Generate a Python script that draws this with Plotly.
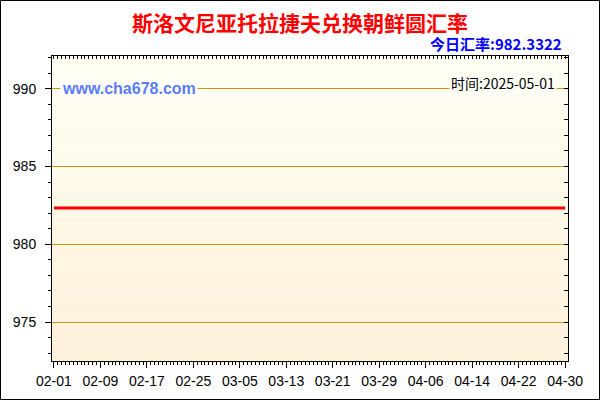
import plotly.graph_objs as go

# data
dates = ['2025-02-01', '2025-04-30']
rate = [982.3322, 982.3322]
tick_dates = ['2025-02-01', '2025-02-09', '2025-02-17', '2025-02-25', '2025-03-05', '2025-03-13',
              '2025-03-21', '2025-03-29', '2025-04-06', '2025-04-14', '2025-04-22', '2025-04-30']
tick_labels = [d[5:] for d in tick_dates]
y_ticks = [975, 980, 985, 990]

title = '斯洛文尼亚托拉捷夫兑换朝鲜圆汇率'
today = '今日汇率:982.3322'
stamp = '时间:2025-05-01'
site = 'www.cha678.com'

xr = ['2025-01-31 16:00', '2025-04-30 12:00']
yr = [972.5, 992.1]

W, H = 600, 400
ml, mr, mt, mb = 52, 32, 56, 39
pw, ph = W - ml - mr, H - mt - mb

layout = go.Layout(
    width=W, height=H, paper_bgcolor='white', plot_bgcolor='rgba(0,0,0,0)',
    margin=dict(l=ml, r=mr, t=mt, b=mb), showlegend=False,
    font=dict(family='Liberation Sans, Arial', size=14, color='black'),
    xaxis=dict(type='date', range=xr, tickvals=tick_dates, ticktext=tick_labels, showgrid=False,
               showline=True, linecolor='black', linewidth=1, ticks='outside', ticklen=6,
               tickcolor='black', zeroline=False, ticklabelstandoff=1,
               minor=dict(ticks='outside', ticklen=3, tickcolor='black', dtick=57600000,
                          tick0='2025-02-01', showgrid=False)),
    yaxis=dict(range=yr, tickvals=y_ticks, showgrid=True, gridcolor='#C9960C', gridwidth=1,
               showline=True, linecolor='black', linewidth=1, ticks='outside', ticklen=6,
               tickcolor='black', zeroline=False, ticklabelstandoff=6,
               minor=dict(ticks='outside', ticklen=3, tickcolor='black', dtick=1, showgrid=False)),
    xaxis2=dict(type='date', range=xr, overlaying='x', side='top', anchor='y', showticklabels=False,
                showgrid=False, showline=True, linecolor='black', ticks='inside', ticklen=3,
                tickcolor='black', dtick=57600000, tick0='2025-02-01', zeroline=False),
    yaxis2=dict(range=yr, overlaying='y', side='right', anchor='x', showticklabels=False,
                showgrid=False, showline=True, linecolor='black', ticks='inside', ticklen=4,
                tickcolor='black', dtick=1, zeroline=False),
)
fig = go.Figure(layout=layout)

# cream gradient behind the plot area
top_c, bot_c = (255, 255, 244), (253, 240, 218)
n = 40
for i in range(n):
    t = i / (n - 1)
    c = tuple(round(bot_c[k] + (top_c[k] - bot_c[k]) * t) for k in range(3))
    fig.add_shape(type='rect', xref='paper', yref='paper', x0=0, x1=1, y0=i / n, y1=(i + 1) / n,
                  fillcolor='rgb(%d,%d,%d)' % c, line_width=0, layer='below')

fig.add_trace(go.Scatter(x=dates, y=rate, mode='lines', line=dict(color='#FF0000', width=3),
                         hoverinfo='skip'))
fig.add_trace(go.Scatter(x=dates, y=rate, xaxis='x2', yaxis='y2', mode='lines',
                         line=dict(width=0), opacity=0, hoverinfo='skip'))

# outer frame
fig.add_shape(type='rect', xref='paper', yref='paper',
              x0=(0.5 - ml) / pw, x1=(W - 0.5 - ml) / pw,
              y0=-(mb - 0.5) / ph, y1=1 + (mt - 0.5) / ph,
              line=dict(color='black', width=1))

fig.add_annotation(text=title, xref='paper', yref='paper', x=(300 - ml) / pw, y=1 + (mt - 22) / ph,
                   showarrow=False, xanchor='center', yanchor='middle',
                   font=dict(family='Noto Sans CJK SC', size=21, color='#FF0000', weight='bold'))
fig.add_annotation(text=today, xref='paper', yref='paper', x=(564 - ml) / pw, y=1 + (mt - 43) / ph,
                   showarrow=False, xanchor='right', yanchor='middle',
                   font=dict(family='Noto Sans CJK SC', size=15, color='#0000FF', weight='bold'))
fig.add_annotation(text=site, xref='paper', yref='y', x=(60 - ml) / pw, y=990,
                   showarrow=False, xanchor='left', yanchor='middle', bgcolor='#FFFFF8',
                   font=dict(family='Liberation Sans, Arial', size=16, color='#5B7CF5', weight='bold'))
fig.add_annotation(text=stamp, xref='paper', yref='y', x=(557 - ml) / pw, y=990, yshift=6,
                   showarrow=False, xanchor='right', yanchor='middle', bgcolor='#FFFFF8',
                   font=dict(family='Noto Sans CJK SC', size=14, color='black'))

fig.write_html('out.html', config={'displayModeBar': False},
               post_script="document.body.style.margin='0';")
